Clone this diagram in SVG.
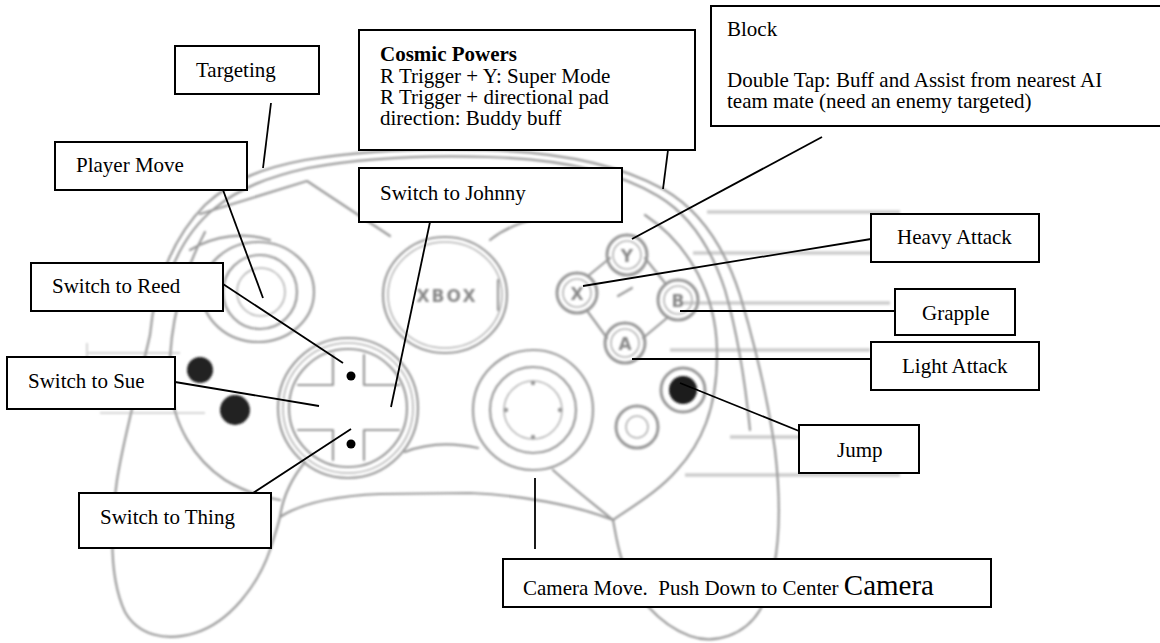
<svg xmlns="http://www.w3.org/2000/svg" width="1160" height="643" viewBox="0 0 1160 643">
<defs>
<filter id="soft" x="-5%" y="-5%" width="110%" height="110%"><feGaussianBlur stdDeviation="0.8"/></filter>
</defs>
<style>
.ol{fill:none;stroke:#9a9a9a;stroke-width:2.2;stroke-linecap:round;stroke-linejoin:round}
.ring{fill:none;stroke:#999;stroke-width:3}
.ring2{fill:none;stroke:#b5b5b5;stroke-width:1.6}
.lt{fill:none;stroke:#cdcdcd;stroke-width:3.5}
.faint{fill:none;stroke:#d6d6d6;stroke-width:2}
.box{fill:#fff;stroke:#000;stroke-width:2}
.lbl{font-family:"Liberation Serif","Times New Roman",serif;font-size:21px;fill:#000}
.btn{font-family:"DejaVu Sans",sans-serif;font-weight:bold;font-size:17px;fill:#8a8a8a;text-anchor:middle}
.con line{stroke:#000;stroke-width:1.8}
</style>
<rect width="1160" height="643" fill="#fff"/>

<g id="controller" filter="url(#soft)">
  <!-- right-side grey guide lines -->
  <path class="lt" d="M707,212 H900 M693,253 H905 M683,303 H890 M670,350 H870 M730,437 H800 M685,475 H900"/>
  <path class="faint" d="M87,353 H180 M100,413 H205 M87,343 V372"/>
  <!-- outer shell -->
  <path class="ol" d="M150,335 C155,280 175,235 205,205 C232,180 262,168 305,160 C365,150 425,148 485,150 C560,152 620,165 663,189 C700,210 725,248 740,295 C755,345 768,400 775,450 C782,510 780,570 760,610 C745,635 715,645 690,636 C660,625 632,595 622,560 C617,545 615,530 613,520"/>
  <path class="ol" d="M162,300 C172,258 190,228 215,208 C240,188 268,177 308,168 C368,157 428,155 488,157 C560,159 618,172 658,196 C690,215 712,250 725,290 C738,335 745,380 750,430"/>
  <!-- left handle -->
  <path class="ol" d="M150,335 C140,380 125,430 117,480 C110,530 110,580 125,612 C138,635 165,642 195,633 C230,622 258,585 270,550 C275,535 278,525 280,517"/>
  <path class="ol" d="M205,232 C182,275 168,330 170,380 C172,425 195,460 225,480 C245,492 262,497 280,500"/>
  <path class="ol" d="M305,462 C292,478 283,495 280,517"/>
  <!-- bottom edges -->
  <path class="ol" d="M280,517 C300,504 330,496 380,494 L470,493 C520,495 575,505 613,520"/>
  <path class="ol" d="M405,452 C425,444 450,442 478,448"/>
  <path class="ol" d="M553,470 C575,490 595,505 613,520"/>
  <path class="ol" d="M645,215 C690,245 716,295 717,350 C718,410 700,445 677,470 C660,490 635,505 613,520"/>
  <!-- upper inner outlines -->
  <path class="ol" d="M200,214 L307,181 L390,236"/>
  <path class="ol" d="M190,250 C215,235 245,232 270,240"/>
  <path class="ol" d="M490,240 C505,228 520,222 540,218"/>
  <!-- left stick -->
  <ellipse class="ol" cx="258" cy="292" rx="56" ry="50"/>
  <circle class="ol" cx="260" cy="292" r="37"/>
  <circle class="ring2" cx="261" cy="292" r="24"/>
  <!-- xbox logo -->
  <ellipse class="ol" cx="445" cy="295" rx="62" ry="58"/>
  <ellipse class="ring2" cx="445" cy="295" rx="57" ry="53"/>
  <text x="447" y="302" class="btn" font-size="20" letter-spacing="2">XBOX</text>
  <path class="ol" d="M498,280 V310"/>
  <!-- d-pad -->
  <circle class="ol" cx="348" cy="408" r="70"/>
  <circle class="ring2" cx="348" cy="408" r="65"/>
  <circle class="ol" cx="348" cy="408" r="59"/>
  <path class="ol" d="M333,355 V385 H298 M364,355 V385 H399 M333,460 V430 H298 M364,460 V430 H399"/>
  <!-- right stick -->
  <circle class="ol" cx="533" cy="410" r="60"/>
  <circle class="ol" cx="533" cy="410" r="43"/>
  <circle class="ring2" cx="533" cy="410" r="29"/>
  <g fill="#999"><circle cx="533" cy="383" r="2.2"/><circle cx="533" cy="437" r="2.2"/><circle cx="506" cy="410" r="2.2"/><circle cx="560" cy="410" r="2.2"/></g>
  <!-- face buttons -->
  <path class="ol" d="M588,276 L610,258 M645,258 L665,283 M667,318 L643,338 M607,338 L588,312 M618,296 L632,288"/>
  <circle class="ring" cx="627" cy="255" r="20"/><circle class="ring2" cx="627" cy="255" r="14"/><text x="627" y="262" class="btn">Y</text>
  <circle class="ring" cx="577" cy="293" r="20"/><circle class="ring2" cx="577" cy="293" r="14"/><text x="577" y="300" class="btn">X</text>
  <circle class="ring" cx="678" cy="300" r="20"/><circle class="ring2" cx="678" cy="300" r="14"/><text x="678" y="307" class="btn">B</text>
  <circle class="ring" cx="625" cy="343" r="20"/><circle class="ring2" cx="625" cy="343" r="14"/><text x="625" y="350" class="btn">A</text>
  <circle class="ring" cx="683" cy="390" r="22" stroke="#aaa"/><circle cx="683" cy="390" r="14" fill="#1a1a1a"/>
  <circle class="ring" cx="637" cy="427" r="21" stroke="#aaa" stroke-width="4"/><circle class="ring2" cx="637" cy="427" r="11"/>
  <!-- back / start -->
  <circle cx="200" cy="370" r="13" fill="#222"/>
  <circle cx="235" cy="410" r="15" fill="#222"/>
</g>
<g id="dpad-dots" fill="#000">
  <circle cx="351" cy="376" r="4.5"/>
  <circle cx="351" cy="444" r="4.5"/>
</g>

<g id="connectors" class="con">
  <line x1="271" y1="103" x2="263" y2="168"/>
  <line x1="223" y1="190" x2="263" y2="298"/>
  <line x1="223" y1="284" x2="343" y2="363"/>
  <line x1="668" y1="150" x2="663" y2="189"/>
  <line x1="430" y1="222" x2="391" y2="407"/>
  <line x1="822" y1="137" x2="632" y2="239"/>
  <line x1="871" y1="239" x2="583" y2="286"/>
  <line x1="895" y1="311" x2="680" y2="311"/>
  <line x1="871" y1="359" x2="632" y2="359"/>
  <line x1="799" y1="431" x2="680" y2="383"/>
  <line x1="175" y1="382" x2="319" y2="406"/>
  <line x1="253" y1="493" x2="351" y2="429"/>
  <line x1="535" y1="478" x2="535" y2="549"/>
</g>

<g id="targeting"><rect class="box" x="175" y="46" width="144" height="48"/><text class="lbl" x="196" y="77">Targeting</text></g>
<g id="player-move"><rect class="box" x="55" y="142" width="192" height="48"/><text class="lbl" x="76" y="172">Player Move</text></g>
<g id="switch-reed"><rect class="box" x="31" y="263" width="192" height="48"/><text class="lbl" x="52" y="293">Switch to Reed</text></g>
<g id="cosmic-powers"><rect class="box" x="359" y="30" width="336" height="120"/>
  <text class="lbl" x="380" y="61" font-weight="bold">Cosmic Powers</text>
  <text class="lbl" x="380" y="83">R Trigger + Y: Super Mode</text>
  <text class="lbl" x="380" y="104">R Trigger + directional pad</text>
  <text class="lbl" x="380" y="125">direction: Buddy buff</text></g>
<g id="switch-johnny"><rect class="box" x="359" y="168" width="263" height="54"/><text class="lbl" x="380" y="200">Switch to Johnny</text></g>
<g id="block"><rect class="box" x="711" y="6" width="460" height="120"/>
  <text class="lbl" x="727" y="36">Block</text>
  <text class="lbl" x="727" y="87">Double Tap: Buff and Assist from nearest AI</text>
  <text class="lbl" x="727" y="108">team mate (need an enemy targeted)</text></g>
<g id="heavy-attack"><rect class="box" x="871" y="214" width="168" height="48"/><text class="lbl" x="897" y="244">Heavy Attack</text></g>
<g id="grapple"><rect class="box" x="895" y="289" width="120" height="46"/><text class="lbl" x="922" y="320">Grapple</text></g>
<g id="light-attack"><rect class="box" x="871" y="342" width="168" height="48"/><text class="lbl" x="902" y="373">Light Attack</text></g>
<g id="jump"><rect class="box" x="799" y="425" width="120" height="48"/><text class="lbl" x="837" y="457">Jump</text></g>
<g id="switch-sue"><rect class="box" x="7" y="357" width="168" height="52"/><text class="lbl" x="28" y="388">Switch to Sue</text></g>
<g id="switch-thing"><rect class="box" x="79" y="493" width="192" height="55"/><text class="lbl" x="100" y="524">Switch to Thing</text></g>
<g id="camera-move"><rect class="box" x="503" y="559" width="488" height="48"/><text class="lbl" x="523" y="595" xml:space="preserve">Camera Move.  Push Down to Center <tspan font-size="29">Camera</tspan></text></g>
</svg>
